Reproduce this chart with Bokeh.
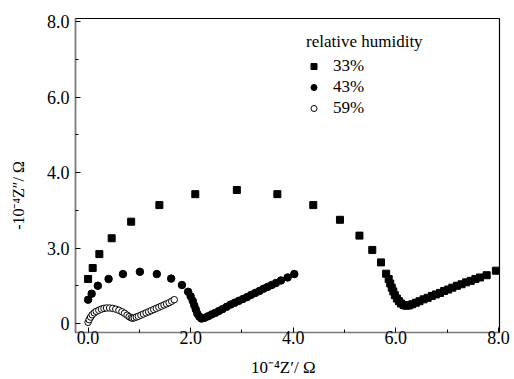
from bokeh.plotting import figure
from bokeh.models import FixedTicker, Range1d, Legend, LegendItem
from bokeh.embed import file_html
from bokeh.resources import INLINE

# ---- data (y in the axis' own linear units) ----
rh33_x = [0.00, 0.09, 0.22, 0.46, 0.84, 1.39, 2.09, 2.90, 3.69, 4.39, 4.91, 5.29, 5.54,
          5.71, 5.81, 5.86, 5.89, 5.92, 5.95, 5.98, 6.02, 6.06, 6.10, 6.15, 6.20, 6.26,
          6.32, 6.39, 6.46, 6.54, 6.62, 6.70, 6.78, 6.86, 6.94, 7.02, 7.10, 7.19, 7.28,
          7.37, 7.46, 7.55, 7.64, 7.77, 7.95]
rh33_y = [1.18, 1.47, 1.84, 2.26, 2.70, 3.14, 3.43, 3.54, 3.43, 3.14, 2.75, 2.33, 1.95,
          1.62, 1.32, 1.18, 1.06, 0.95, 0.85, 0.75, 0.66, 0.59, 0.53, 0.49, 0.47, 0.48,
          0.51, 0.55, 0.59, 0.64, 0.68, 0.73, 0.77, 0.81, 0.86, 0.90, 0.95, 1.00, 1.04,
          1.09, 1.13, 1.18, 1.22, 1.28, 1.40]

rh43_x = [0.00, 0.07, 0.19, 0.40, 0.68, 1.01, 1.34, 1.62, 1.83, 1.95, 2.00, 2.04, 2.07,
          2.10, 2.13, 2.17, 2.21, 2.27, 2.34, 2.41, 2.48, 2.55, 2.62, 2.70, 2.78, 2.86,
          2.94, 3.02, 3.10, 3.18, 3.26, 3.34, 3.42, 3.50, 3.58, 3.66, 3.76, 3.89, 4.02]
rh43_y = [0.63, 0.79, 1.00, 1.18, 1.31, 1.37, 1.31, 1.19, 1.02, 0.84, 0.72, 0.60, 0.48,
          0.37, 0.26, 0.18, 0.13, 0.15, 0.19, 0.24, 0.28, 0.33, 0.38, 0.44, 0.50, 0.55,
          0.60, 0.65, 0.70, 0.76, 0.81, 0.86, 0.92, 0.97, 1.02, 1.07, 1.14, 1.22, 1.31]

rh59_x = [0.00, 0.02, 0.05, 0.08, 0.12, 0.16, 0.21, 0.26, 0.31, 0.36, 0.42, 0.48, 0.54,
          0.60, 0.66, 0.71, 0.76, 0.80, 0.84, 0.87, 0.90, 0.94, 0.98, 1.03, 1.08, 1.13,
          1.18, 1.23, 1.28, 1.33, 1.38, 1.43, 1.48, 1.53, 1.58, 1.63, 1.68]
rh59_y = [0.03, 0.10, 0.17, 0.23, 0.28, 0.32, 0.35, 0.38, 0.40, 0.41, 0.41, 0.40, 0.38,
          0.35, 0.31, 0.27, 0.22, 0.18, 0.15, 0.14, 0.15, 0.17, 0.19, 0.22, 0.25, 0.28,
          0.31, 0.34, 0.37, 0.40, 0.43, 0.46, 0.49, 0.52, 0.55, 0.59, 0.63]

x_ticks = [0, 2, 4, 6, 8]
x_tick_labels = ["0.0", "2.0", "4.0", "6.0", "8.0"]
y_ticks = [0, 2, 4, 6, 8]
y_tick_labels = ["0", "3.0", "4.0", "6.0", "8.0"]
minor_ticks = [1, 3, 5, 7]
x_title = "10\u207b\u2074Z\u2032/ \u03a9"
y_title = "-10\u207b\u2074Z\u2033/ \u03a9"
legend_title = "relative humidity"
series_labels = ["33%", "43%", "59%"]

FONT = "Liberation Serif"

p = figure(width=514, height=379, output_backend="svg", toolbar_location=None,
           x_range=Range1d(-0.245, 8.02), y_range=Range1d(-0.24, 8.09),
           min_border_left=75, min_border_right=15, min_border_top=18, min_border_bottom=46)
p.grid.visible = False
p.outline_line_color = "black"
p.outline_line_width = 1.2
p.background_fill_color = "white"
p.border_fill_color = "white"

for ax, ticks, labels in ((p.xaxis, x_ticks, x_tick_labels), (p.yaxis, y_ticks, y_tick_labels)):
    ax.ticker = FixedTicker(ticks=ticks, minor_ticks=minor_ticks)
    ax.major_label_overrides = {t: l for t, l in zip(ticks, labels)}
    ax.axis_line_color = "#7a7a7a"
    ax.axis_line_width = 1.5
    ax.major_tick_line_color = "black"
    ax.minor_tick_line_color = "black"
    ax.major_tick_in = 5
    ax.major_tick_out = 0
    ax.minor_tick_in = 3
    ax.minor_tick_out = 0
    ax.major_label_text_font = FONT
    ax.major_label_text_font_size = "18px"
    ax.major_label_text_color = "black"
    ax.axis_label_text_font = FONT
    ax.axis_label_text_font_style = "normal"
    ax.axis_label_text_color = "black"
p.xaxis.major_label_standoff = -2
p.yaxis.major_label_standoff = 6

# axis titles; trailing en spaces nudge the centred text toward the reference position
p.xaxis.axis_label = x_title + "\u2002"
p.xaxis.axis_label_text_font_size = "17px"
p.xaxis.axis_label_standoff = 11
p.yaxis.axis_label = y_title + "\u2002" * 5
p.yaxis.axis_label_text_font_size = "16px"
p.yaxis.axis_label_standoff = 17

r33 = p.scatter(rh33_x, rh33_y, marker="square", size=7, fill_color="black", line_color="black")
r43 = p.scatter(rh43_x, rh43_y, marker="circle", size=7.5, fill_color="black", line_color="black")
r59 = p.scatter(rh59_x, rh59_y, marker="circle", size=6.5, fill_color="white", line_color="black",
                line_width=1)

legend = Legend(items=[LegendItem(label=series_labels[0], renderers=[r33]),
                       LegendItem(label=series_labels[1], renderers=[r43]),
                       LegendItem(label=series_labels[2], renderers=[r59])],
                title=legend_title, location=(231, 214), padding=0, margin=0,
                spacing=1, glyph_width=15, glyph_height=20, label_height=20,
                label_standoff=12, title_standoff=4,
                border_line_alpha=0, background_fill_alpha=0)
legend.title_text_font = FONT
legend.title_text_font_style = "normal"
legend.title_text_font_size = "17px"
legend.title_text_color = "black"
legend.label_text_font = FONT
legend.label_text_font_size = "17px"
legend.label_text_color = "black"
p.add_layout(legend)

open("out.html", "w").write(file_html(p, INLINE))
